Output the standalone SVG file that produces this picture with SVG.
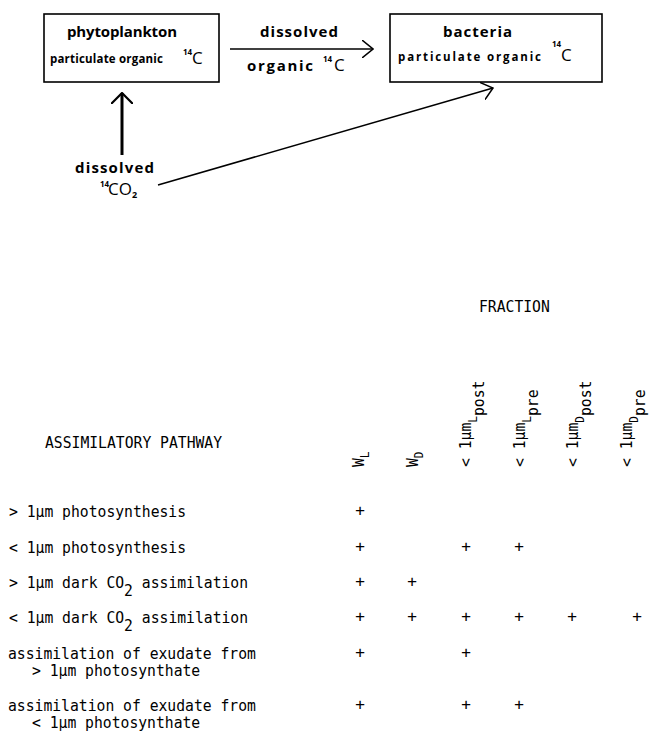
<svg xmlns="http://www.w3.org/2000/svg" width="655" height="731" viewBox="0 0 655 731">
<style>
.box{fill:none;stroke:#000;stroke-width:1.6}
.ln{fill:none;stroke:#000;stroke-width:1.5}
.thick{fill:none;stroke:#000;stroke-width:3}
.t{font-family:"Open Sans","DejaVu Sans",sans-serif;font-weight:700;fill:#000}
.big{font-size:15px}
.sm{font-size:11.5px}
.sup{font-size:8px;font-weight:700}
.c{font-family:"Open Sans","DejaVu Sans",sans-serif;font-size:17px;font-weight:400;fill:#000}
.m{font-family:"DejaVu Sans Mono",monospace;font-size:16px;fill:#000}
.sub{font-size:12px}
</style>
<defs>
<marker id="ah" viewBox="0 0 12 18" refX="11" refY="9" markerWidth="12" markerHeight="18" markerUnits="userSpaceOnUse" orient="auto">
<path d="M0,0 L11,9 L0,18" fill="none" stroke="#000" stroke-width="1.5"/>
</marker>
<marker id="ahv" viewBox="0 0 12 22" refX="11" refY="11" markerWidth="12" markerHeight="22" markerUnits="userSpaceOnUse" orient="auto">
<path d="M0,0 L11,11 L0,22" fill="none" stroke="#000" stroke-width="2.2"/>
</marker>
</defs>

<g id="phytoplankton">
<rect class="box" x="44" y="14" width="175" height="68"/>
<text class="t big" x="67" y="37" textLength="110">phytoplankton</text>
<text class="t sm" x="50" y="63" textLength="113">particulate organic</text>
<text class="t sup" x="183" y="55">14</text>
<text class="c" x="192" y="64">C</text>
</g>

<g id="bacteria">
<rect class="box" x="390" y="14" width="212" height="68"/>
<text class="t big" x="443" y="37" textLength="69">bacteria</text>
<text class="t sm" x="398" y="61" textLength="143">particulate organic</text>
<text class="t sup" x="552" y="47">14</text>
<text class="c" x="561" y="61">C</text>
</g>

<g id="dissolved-co2">
<text class="t big" x="75" y="173" textLength="79">dissolved</text>
<text class="t sup" x="100" y="187">14</text>
<text class="c" x="108" y="195">CO</text>
<text class="t" style="font-size:9px;font-weight:700" x="132" y="198">2</text>
</g>

<g id="connectors">
<line class="ln" x1="230" y1="49" x2="373" y2="49" marker-end="url(#ah)"/>
<line class="thick" x1="122" y1="155" x2="122" y2="93" marker-end="url(#ahv)"/>
<line class="ln" x1="158" y1="185" x2="493" y2="88" marker-end="url(#ah)"/>
</g>

<g id="connector-label">
<text class="t big" x="260" y="37" textLength="78">dissolved</text>
<text class="t big" x="247" y="71" textLength="66">organic</text>
<text class="t sup" x="323" y="62">14</text>
<text class="c" x="334" y="71">C</text>
</g>

<g id="table">
<text class="m" transform="translate(479,312) scale(0.92,1)">FRACTION</text>
<text class="m" transform="translate(45,448) scale(0.92,1)">ASSIMILATORY PATHWAY</text>

<g id="headers">
<text class="m" transform="translate(364,467) rotate(-90) scale(0.92,1)">W<tspan class="sub" dy="5">L</tspan></text>
<text class="m" transform="translate(418,467) rotate(-90) scale(0.92,1)">W<tspan class="sub" dy="5">D</tspan></text>
<text class="m" transform="translate(471,467) rotate(-90) scale(0.92,1)">&lt; 1µm<tspan class="sub" dy="6">L</tspan><tspan dy="7">post</tspan></text>
<text class="m" transform="translate(525,467) rotate(-90) scale(0.92,1)">&lt; 1µm<tspan class="sub" dy="6">L</tspan><tspan dy="7">pre</tspan></text>
<text class="m" transform="translate(578,467) rotate(-90) scale(0.92,1)">&lt; 1µm<tspan class="sub" dy="6">D</tspan><tspan dy="7">post</tspan></text>
<text class="m" transform="translate(632,467) rotate(-90) scale(0.92,1)">&lt; 1µm<tspan class="sub" dy="6">D</tspan><tspan dy="7">pre</tspan></text>
</g>

<g id="rows">
<text class="m" transform="translate(9,517) scale(0.92,1)">&gt; 1µm photosynthesis</text>
<text class="m" transform="translate(9,553) scale(0.92,1)">&lt; 1µm photosynthesis</text>
<text class="m" transform="translate(9,588) scale(0.92,1)">&gt; 1µm dark CO<tspan dy="8">2</tspan><tspan dy="-8"> assimilation</tspan></text>
<text class="m" transform="translate(9,623) scale(0.92,1)">&lt; 1µm dark CO<tspan dy="8">2</tspan><tspan dy="-8"> assimilation</tspan></text>
<text class="m" transform="translate(8,659) scale(0.92,1)">assimilation of exudate from</text>
<text class="m" transform="translate(32,676) scale(0.92,1)">&gt; 1µm photosynthate</text>
<text class="m" transform="translate(8,711) scale(0.92,1)">assimilation of exudate from</text>
<text class="m" transform="translate(32,728) scale(0.92,1)">&lt; 1µm photosynthate</text>
</g>

<g id="marks" class="m" text-anchor="middle">
<text x="360" y="516">+</text>
<text x="360" y="552">+</text><text x="466" y="552">+</text><text x="519" y="552">+</text>
<text x="360" y="587">+</text><text x="412" y="587">+</text>
<text x="360" y="622">+</text><text x="412" y="622">+</text><text x="466" y="622">+</text><text x="519" y="622">+</text><text x="572" y="622">+</text><text x="637" y="622">+</text>
<text x="360" y="658">+</text><text x="466" y="658">+</text>
<text x="360" y="710">+</text><text x="466" y="710">+</text><text x="519" y="710">+</text>
</g>
</g>
</svg>
